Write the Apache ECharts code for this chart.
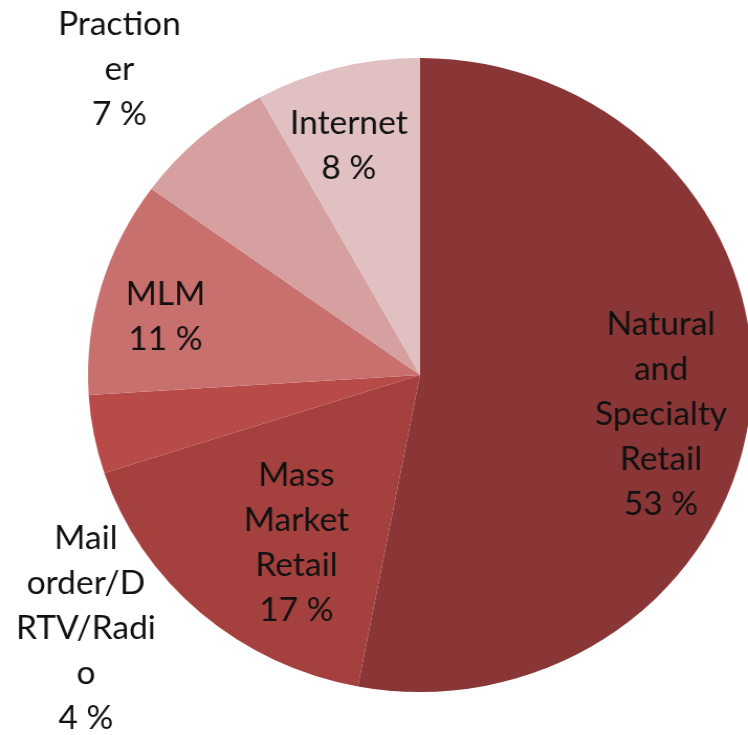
<!DOCTYPE html>
<html>
<head>
<meta charset="utf-8">
<script src="https://cdn.jsdelivr.net/npm/echarts@6/dist/echarts.min.js"></script>
<style>
  html, body { margin: 0; padding: 0; background: #fff; overflow: hidden; }
  /* the source picture is stretched a little sideways (the pie is an ellipse),
     so draw on a narrower canvas and widen it */
  #chart { width: 714px; height: 735px; transform: scaleX(1.0476); transform-origin: 0 0; }
</style>
</head>
<body>
<div id="chart"></div>
<script>
// data (clockwise from 12 o'clock)
const channels = [
  "Natural\nand\nSpecialty\nRetail",
  "Mass\nMarket\nRetail",
  "Mail\norder/D\nRTV/Radi\no",
  "MLM",
  "Praction\ner",
  "Internet"
];
const shares = [53, 17, 4, 11, 7, 8];
const sliceColors = ["#8a3636", "#a4403e", "#b84b48", "#c8706e", "#d6a0a0", "#e1c0c2"];

// where the label blocks sit (Excel "best fit" placement), in unstretched px
const labelSpots = [[631, 415], [283, 543], [82, 629], [158, 317], [114, 70], [333, 146]];

const chart = echarts.init(document.getElementById("chart"));

const option = {
  animation: false,
  series: [
    {
      type: "pie",
      center: [401, 375],
      radius: 317,
      startAngle: 90,
      clockwise: true,
      data: channels.map((name, i) => ({
        name: name,
        value: shares[i],
        itemStyle: { color: sliceColors[i] }
      })),
      label: {
        show: true,
        position: "inside",
        formatter: "{b}\n{c} %",
        fontFamily: "Lato",
        fontSize: 32,
        lineHeight: 45,
        color: "#111",
        align: "center"
      },
      labelLine: { show: false },
      labelLayout: (params) => {
        const p = labelSpots[params.dataIndex];
        return { x: p[0], y: p[1], align: "center", verticalAlign: "middle" };
      },
      emphasis: { disabled: true }
    }
  ]
};

chart.setOption(option);
</script>
</body>
</html>
